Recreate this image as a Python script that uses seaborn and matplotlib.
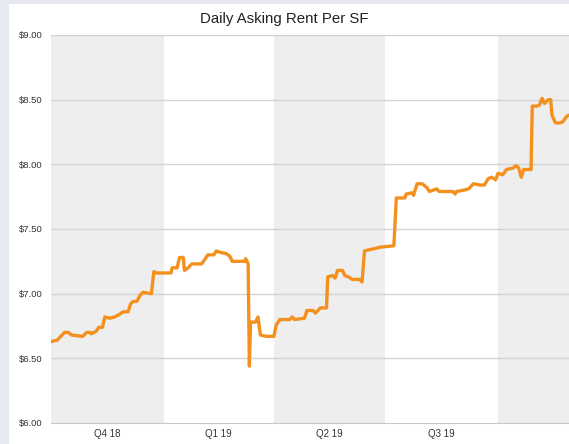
import pandas as pd
import numpy as np
import matplotlib
matplotlib.use("Agg")
import matplotlib.pyplot as plt
import seaborn as sns

# %%
# days after 2018-10-01 and asking rent ($/SF)
dias = [0, 5, 7, 11, 14, 17, 26, 29, 32, 33, 37, 39, 42, 44, 48, 52, 56, 59, 63, 65,
        67, 70, 73, 75, 82, 84, 86, 88, 92, 98, 99, 103, 105, 108, 109, 112, 115, 123, 126, 128,
        133, 135, 138, 143, 146, 148, 154, 158, 159, 161, 162, 163, 167, 169, 171, 176, 182, 184, 187, 195,
        197, 199, 207, 209, 214, 216, 220, 225, 226, 230, 232, 234, 238, 240, 243, 246, 252, 254, 256, 260,
        265, 269, 280, 282, 289, 290, 295, 296, 299, 303, 307, 309, 312, 315, 317, 328, 330, 331, 337, 341,
        345, 350, 354, 357, 360, 363, 365, 369, 372, 377, 380, 382, 384, 386, 392, 393, 397, 399, 401, 403,
        406, 408, 409, 410, 412, 416, 418, 421, 423]
renta = [6.63, 6.64, 6.66, 6.70, 6.70, 6.68, 6.67, 6.70, 6.70, 6.69, 6.71, 6.74, 6.74, 6.82, 6.81, 6.82, 6.84, 6.86, 6.86, 6.92,
         6.94, 6.94, 6.99, 7.01, 7.00, 7.17, 7.16, 7.16, 7.16, 7.16, 7.20, 7.20, 7.28, 7.28, 7.18, 7.20, 7.23, 7.23, 7.27, 7.30,
         7.30, 7.33, 7.32, 7.31, 7.29, 7.25, 7.25, 7.25, 7.27, 7.23, 6.44, 6.78, 6.78, 6.82, 6.68, 6.67, 6.67, 6.76, 6.80, 6.80,
         6.82, 6.80, 6.81, 6.87, 6.87, 6.85, 6.89, 6.89, 7.13, 7.14, 7.12, 7.18, 7.18, 7.14, 7.13, 7.11, 7.11, 7.09, 7.33, 7.34,
         7.35, 7.36, 7.37, 7.74, 7.74, 7.77, 7.78, 7.76, 7.85, 7.85, 7.82, 7.79, 7.80, 7.81, 7.79, 7.79, 7.77, 7.79, 7.80, 7.81,
         7.85, 7.84, 7.84, 7.89, 7.90, 7.88, 7.93, 7.92, 7.96, 7.97, 7.99, 7.97, 7.90, 7.96, 7.96, 8.45, 8.45, 8.46, 8.51, 8.47,
         8.50, 8.50, 8.39, 8.36, 8.32, 8.32, 8.33, 8.37, 8.38]

trimestres = ["Q4 18", "Q1 19", "Q2 19", "Q3 19", "Q4 19"]
inicio_trim = ["2018-10-01", "2019-01-01", "2019-04-01", "2019-07-01", "2019-10-01", "2020-01-01"]
y_ticks = [6.0, 6.5, 7.0, 7.5, 8.0, 8.5, 9.0]

inicio = pd.Timestamp("2018-10-01")
df = pd.DataFrame({"fecha": [inicio + pd.Timedelta(days=d) for d in dias], "renta": renta})
bordes = pd.to_datetime(inicio_trim)

# %%
sns.set_style("white")
plt.rcParams["font.family"] = ["Liberation Sans", "DejaVu Sans"]

fig = plt.figure(figsize=(5.69, 4.44), dpi=100)
fig.patch.set_facecolor("#e6eaf0")
# white card behind the chart
fondo = fig.add_axes([0.016, 0.0, 0.984, 0.99], zorder=-5)
fondo.axis("off")
fondo.add_patch(plt.Rectangle((0, 0), 1, 1, transform=fondo.transAxes, color="white"))

ax = fig.add_axes([0.0896, 0.0473, 0.9104, 0.8739])
ax.set_facecolor("white")

# quarter bands, shaded every other one
for i in range(len(trimestres)):
    if i % 2 == 0:
        ax.axvspan(bordes[i], bordes[i + 1], color="#eeeeee", lw=0, zorder=0)

for v in y_ticks[1:]:
    ax.axhline(v, color="#d4d4d4", lw=1, zorder=1)

sns.lineplot(data=df, x="fecha", y="renta", ax=ax, color="#f4901e", lw=2.4, zorder=3)

ax.set_xlim(inicio, inicio + pd.Timedelta(days=423))
ax.set_ylim(6.0, 9.0)
ax.set_yticks(y_ticks)
ax.set_yticklabels([f"${v:.2f}" for v in y_ticks], fontsize=6.8, color="#333333")

# the last quarter's label falls past the cropped right edge
centros = [bordes[i] + (bordes[i + 1] - bordes[i]) / 2 for i in range(len(trimestres) - 1)]
ax.set_xticks(centros)
ax.set_xticklabels(trimestres[:-1], fontsize=7, color="#333333")
ax.set_xticks(bordes[1:5], minor=True)
ax.tick_params(axis="x", which="major", length=0, pad=4)
ax.tick_params(axis="x", which="minor", length=6, color="#999999", width=0.8, direction="inout")
ax.tick_params(axis="y", length=0, pad=6)

for s in ["top", "right", "left"]:
    ax.spines[s].set_visible(False)
ax.spines["bottom"].set_color("#c8c8c8")
ax.set_xlabel("")
ax.set_ylabel("")

fig.text(0.5, 0.958, "Daily Asking Rent Per SF", ha="center", va="center", fontsize=10.8, color="#222222")

fig.savefig("out.png", dpi=100, facecolor=fig.get_facecolor())
